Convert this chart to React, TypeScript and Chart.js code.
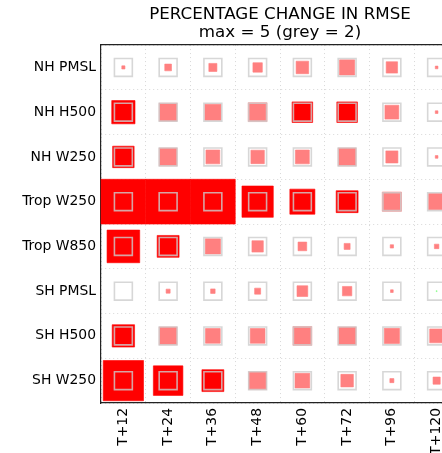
import React, { useEffect, useRef } from "react";
import { Chart, registerables } from "chart.js";

Chart.register(...registerables);

const rowLabels = ["NH PMSL", "NH H500", "NH W250", "Trop W250", "Trop W850", "SH PMSL", "SH H500", "SH W250"];
const leadTimes = ["T+12", "T+24", "T+36", "T+48", "T+60", "T+72", "T+96", "T+120"];

// percentage change in RMSE per lead time
const nhPmsl = [0.35, 0.75, 0.9, 1.05, 1.4, 1.7, 1.27, 0.3];
const nhH500 = [2.6, 2.0, 1.8, 2.1, 2.3, 2.3, 1.55, 0.3];
const nhW250 = [2.4, 2.0, 1.55, 1.5, 1.55, 2.0, 1.35, 0.3];
const tropW250 = [6.0, 5.5, 5.2, 3.5, 2.8, 2.45, 2.15, 1.8];
const tropW850 = [3.65, 2.45, 1.7, 1.27, 0.97, 0.67, 0.37, 0.5];
const shPmsl = [0, 0.45, 0.5, 0.67, 1.2, 1.05, 0.3, -0.1];
const shH500 = [2.5, 2.0, 1.65, 1.65, 2.1, 2.0, 1.7, 1.55];
const shW250 = [4.5, 3.3, 2.45, 2.0, 1.65, 1.4, 0.45, 0.8];

// 1 = statistically significant (bright colour)
const nhPmslSig = [0, 0, 0, 0, 0, 0, 0, 0];
const nhH500Sig = [1, 0, 0, 0, 1, 1, 0, 0];
const nhW250Sig = [1, 0, 0, 0, 0, 0, 0, 0];
const tropW250Sig = [1, 1, 1, 1, 1, 1, 0, 0];
const tropW850Sig = [1, 1, 0, 0, 0, 0, 0, 0];
const shPmslSig = [0, 0, 0, 0, 0, 0, 0, 0];
const shH500Sig = [1, 0, 0, 0, 0, 0, 0, 0];
const shW250Sig = [1, 1, 1, 0, 0, 0, 0, 0];

const maxValue = 5;
const greyValue = 2;
const titleLines = ["PERCENTAGE CHANGE IN RMSE", `max = ${maxValue} (grey = ${greyValue})`];

export default function App() {
  const ref = useRef<HTMLCanvasElement>(null);

  useEffect(() => {
    if (!ref.current) return;
    const series = [nhPmsl, nhH500, nhW250, tropW250, tropW850, shPmsl, shH500, shW250];
    const sigs = [nhPmslSig, nhH500Sig, nhW250Sig, tropW250Sig, tropW850Sig, shPmslSig, shH500Sig, shW250Sig];
    const points: any[] = [];
    rowLabels.forEach((r, i) =>
      leadTimes.forEach((t, j) => points.push({ x: t, y: r, v: series[i][j], s: sigs[i][j] }))
    );

    const cellPx = (chart: any) => {
      const xs = chart.scales && chart.scales.x;
      if (!xs) return 0;
      const d = Math.abs(xs.getPixelForValue(1) - xs.getPixelForValue(0));
      return isFinite(d) ? d : 0;
    };
    const radiusFor = (chart: any, v: number) =>
      (Math.min(Math.abs(v), maxValue) / maxValue) * cellPx(chart) / Math.SQRT2;

    const colourFor = (ctx: any) => {
      const p = ctx.raw;
      if (!p) return "#ff8080";
      if (p.v < 0) return p.s ? "#00d000" : "#80ff80";
      return p.s ? "#ff0000" : "#ff8080";
    };

    const font = { family: "'DejaVu Sans', sans-serif", size: 13.9 };

    const chart = new Chart(ref.current, {
      type: "scatter",
      data: {
        datasets: [
          {
            label: "grey",
            order: 0,
            data: points,
            pointStyle: "rect",
            pointRadius: (ctx: any) => radiusFor(ctx.chart, greyValue),
            pointBackgroundColor: "rgba(0,0,0,0)",
            pointBorderColor: "rgba(205,205,205,0.8)",
            pointBorderWidth: 1.6,
            showLine: false,
          } as any,
          {
            label: "change",
            order: 1,
            data: points,
            pointStyle: "rect",
            pointRadius: (ctx: any) => (ctx.raw ? radiusFor(ctx.chart, ctx.raw.v) : 0),
            pointBackgroundColor: colourFor,
            pointBorderColor: colourFor,
            pointBorderWidth: 0.6,
            showLine: false,
          } as any,
        ],
      },
      options: {
        responsive: false,
        animation: false,
        devicePixelRatio: 1,
        layout: { autoPadding: false, padding: { left: 0, right: 11, top: 0, bottom: 0 } },
        plugins: {
          legend: { display: false },
          tooltip: { enabled: false },
          title: {
            display: true,
            fullSize: false,
            text: titleLines,
            color: "#000",
            font: { family: "'DejaVu Sans', sans-serif", size: 16.7, weight: "normal", lineHeight: 1.05 },
            padding: { top: 6, bottom: 4 },
          },
        },
        scales: {
          x: {
            type: "category",
            labels: leadTimes,
            offset: true,
            position: "bottom",
            grid: { display: true, offset: true, color: "#d8d8d8", lineWidth: 1, drawTicks: false },
            border: { display: true, color: "#222", width: 1.2, dash: [1, 3] },
            ticks: {
              autoSkip: false,
              maxRotation: 90,
              minRotation: 90,
              padding: 5,
              color: "#000",
              font,
            },
            afterFit: (s: any) => {
              s.height = 50;
            },
          },
          xTop: {
            type: "linear",
            position: "top",
            min: 0,
            max: 1,
            grid: { display: false, drawTicks: false },
            border: { display: true, color: "#222", width: 1.2 },
            ticks: { display: false },
            afterFit: (s: any) => {
              s.height = 0;
            },
          },
          y: {
            type: "category",
            labels: rowLabels,
            offset: true,
            position: "left",
            grid: { display: true, offset: true, color: "#d8d8d8", lineWidth: 1, drawTicks: false },
            border: { display: true, color: "#222", width: 1.2, dash: [1, 3] },
            ticks: { autoSkip: false, padding: 5, color: "#000", font },
            afterFit: (s: any) => {
              s.width = 101;
            },
          },
        },
      } as any,
    });

    return () => chart.destroy();
  }, []);

  return (
    <div style={{ position: "fixed", left: 0, top: 0, width: 442, height: 453, overflow: "hidden", background: "#fff" }}>
      <canvas ref={ref} width={470} height={453} style={{ display: "block", width: 470, height: 453 }} />
    </div>
  );
}
